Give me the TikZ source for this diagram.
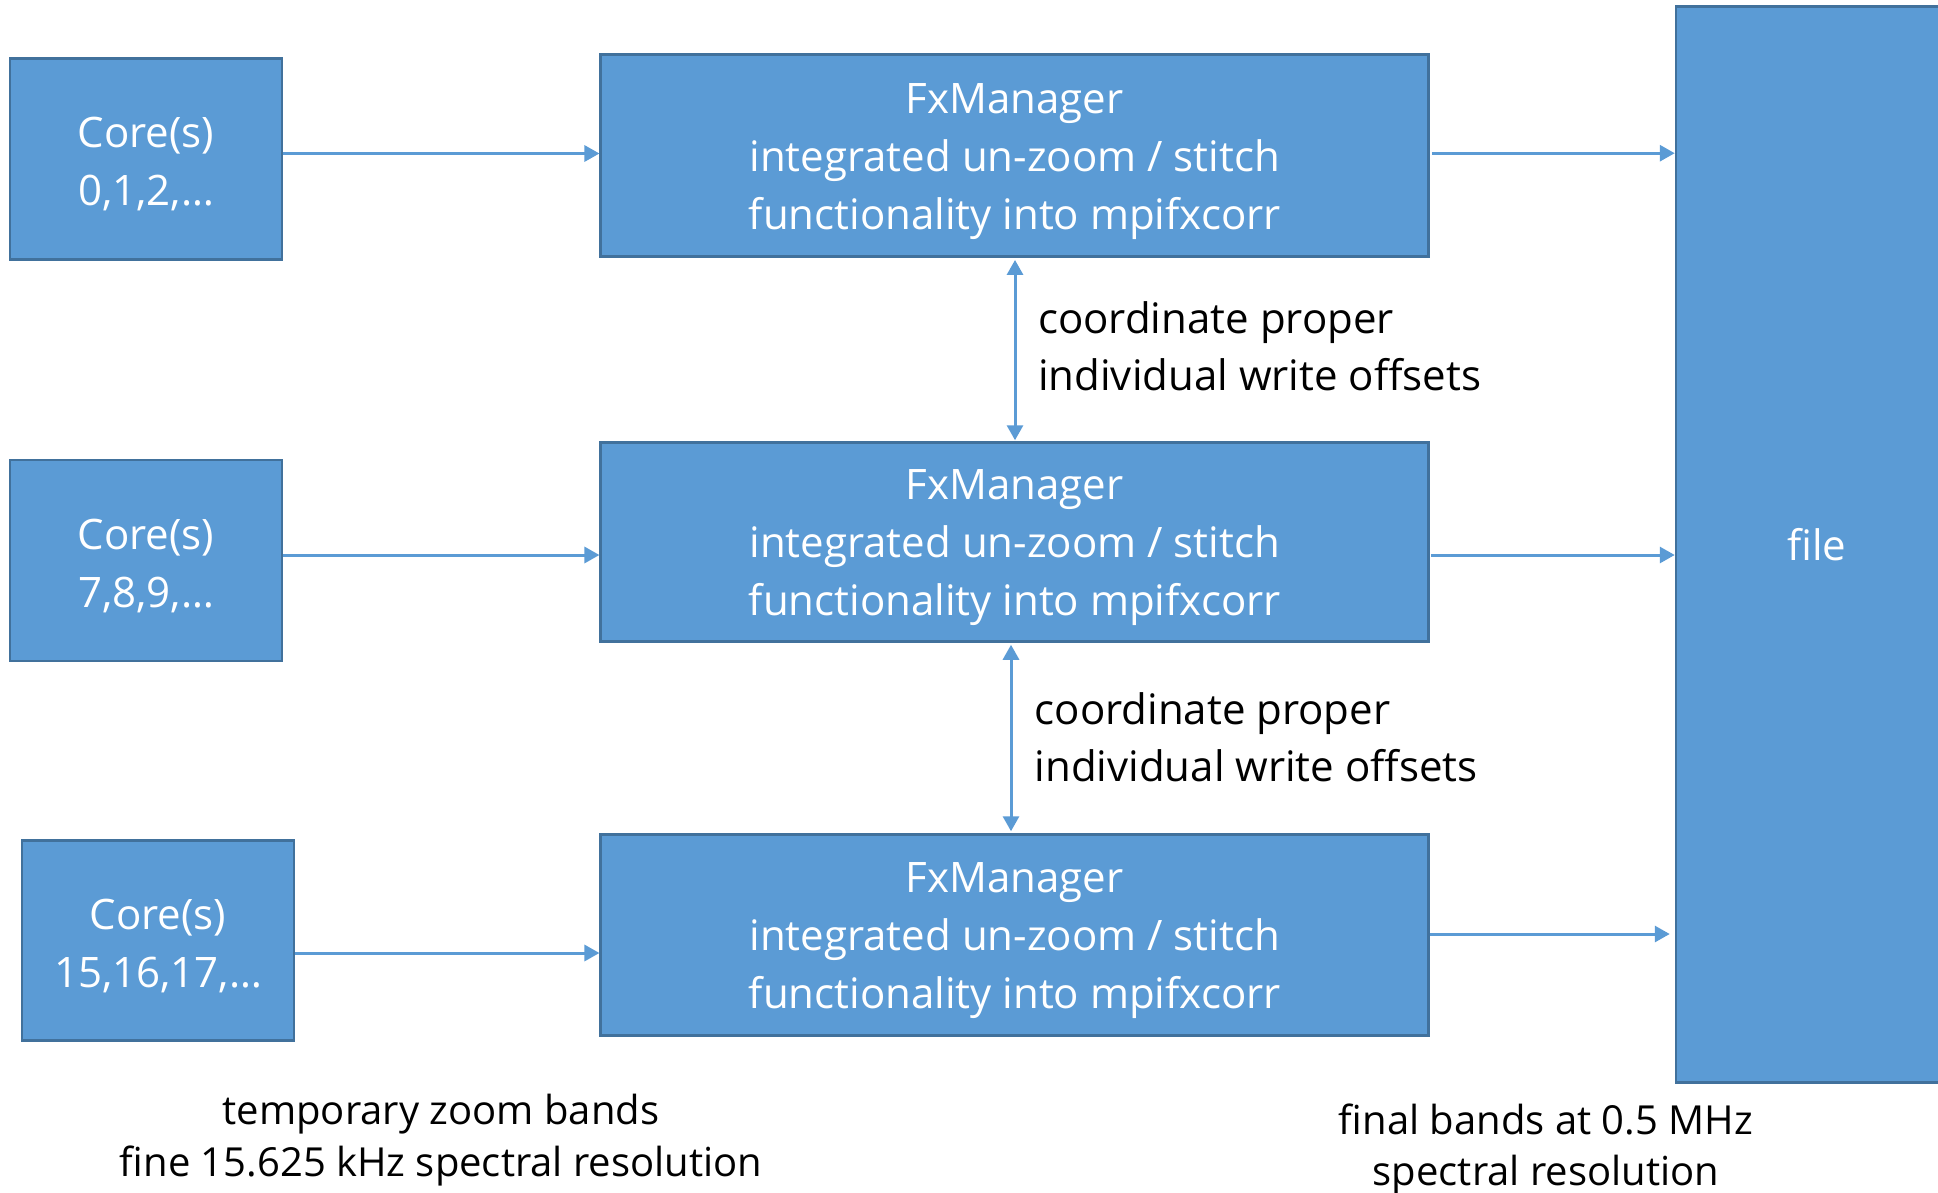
\documentclass[tikz,border=0pt]{standalone}
\usepackage{fontspec}
\setmainfont{Open Sans}
\usetikzlibrary{arrows.meta}
\definecolor{boxfill}{HTML}{5B9BD5}
\definecolor{boxline}{HTML}{41719C}
\begin{document}
\begin{tikzpicture}[x=1pt,y=-1pt,
  block/.style={draw=boxline,line width=2.5pt,fill=boxfill,inner sep=0pt},
  boxtext/.style={text=white,align=center,inner sep=0pt,font=\fontsize{42}{58}\selectfont},
  label/.style={text=black,inner sep=0pt,font=\fontsize{42}{57}\selectfont},
  link/.style={draw=boxfill,line width=3pt,-{Triangle[length=15pt,width=16pt]}},
  twoway/.style={draw=boxfill,line width=3pt,{Triangle[length=15pt,width=16pt]}-{Triangle[length=15pt,width=16pt]}}]
\clip (0,0) rectangle (1938,1192);
\useasboundingbox (0,0) rectangle (1938,1192);

% sources
\node[block,minimum width=272pt,minimum height=201pt] (c1) at (146,159) {};
\node[block,minimum width=272pt,minimum height=201pt] (c2) at (146,560.5) {};
\node[block,minimum width=272pt,minimum height=200pt] (c3) at (158,940.5) {};
\node[boxtext] (c1t) at ([yshift=-5pt]c1.center) {Core(s)\\0,1,2,\dots};
\node[boxtext] (c2t) at ([yshift=-5pt]c2.center) {Core(s)\\7,8,9,\dots};
\node[boxtext] (c3t) at ([yshift=-5pt]c3.center) {Core(s)\\15,16,17,\dots};

% managers
\node[block,minimum width=828pt,minimum height=202pt] (f1) at (1014.7,155.7) {};
\node[block,minimum width=828pt,minimum height=199pt] (f2) at (1014.7,542) {};
\node[block,minimum width=828pt,minimum height=201pt] (f3) at (1014.7,935) {};
\node[boxtext] (f1t) at ([yshift=-6pt]f1.center) {FxManager\\integrated un-zoom / stitch\\functionality into mpifxcorr};
\node[boxtext] (f2t) at ([yshift=-6pt]f2.center) {FxManager\\integrated un-zoom / stitch\\functionality into mpifxcorr};
\node[boxtext] (f3t) at ([yshift=-6pt]f3.center) {FxManager\\integrated un-zoom / stitch\\functionality into mpifxcorr};

% output file
\node[block,minimum width=282pt,minimum height=1076pt] (file) at (1817,544.5) {};
\node[boxtext] (filet) at (file.center) {file};

% data flow
\draw[link] ([yshift=5.5pt]c1.east) -- ([yshift=5.5pt]c1.east -| f1.west);
\draw[link] ([yshift=2.5pt,xshift=2pt]f1.east) -- ([yshift=2.5pt]f1.east -| file.west);
\draw[link] ([yshift=5.5pt]c2.east) -- ([yshift=5.5pt]c2.east -| f2.west);
\draw[link] ([yshift=-13pt,xshift=1pt]f2.east) -- ([yshift=-13pt]f2.east -| file.west);
\draw[link] ([yshift=-12.5pt]c3.east) -- ([yshift=-12.5pt]c3.east -| f3.west);
\draw[link] ([yshift=1pt]f3.east) -- ([yshift=1pt,xshift=-5pt]f3.east -| file.west);

% offset coordination
\draw[twoway] ([xshift=0.3pt,yshift=-2pt]f1.south) -- ([xshift=0.3pt,yshift=1pt]f2.north);
\draw[twoway] ([xshift=-3.7pt,yshift=-2pt]f2.south) -- ([xshift=-3.7pt,yshift=2pt]f3.north);

\node[label,anchor=west,align=left] (o1) at (1038,346) {coordinate proper\\individual write offsets};
\node[label,anchor=west,align=left] (o2) at (1034.5,736.8) {coordinate proper\\individual write offsets};

% band annotations
\node[label,align=center,font=\fontsize{40}{52}\selectfont] (t1) at (441,1139.7)
  {temporary zoom bands\\fine 15.625 kHz spectral resolution};
\node[label,align=center,font=\fontsize{40}{51}\selectfont] (t2) at (1546,1149)
  {final bands at 0.5 MHz\\spectral resolution};
\end{tikzpicture}
\end{document}
